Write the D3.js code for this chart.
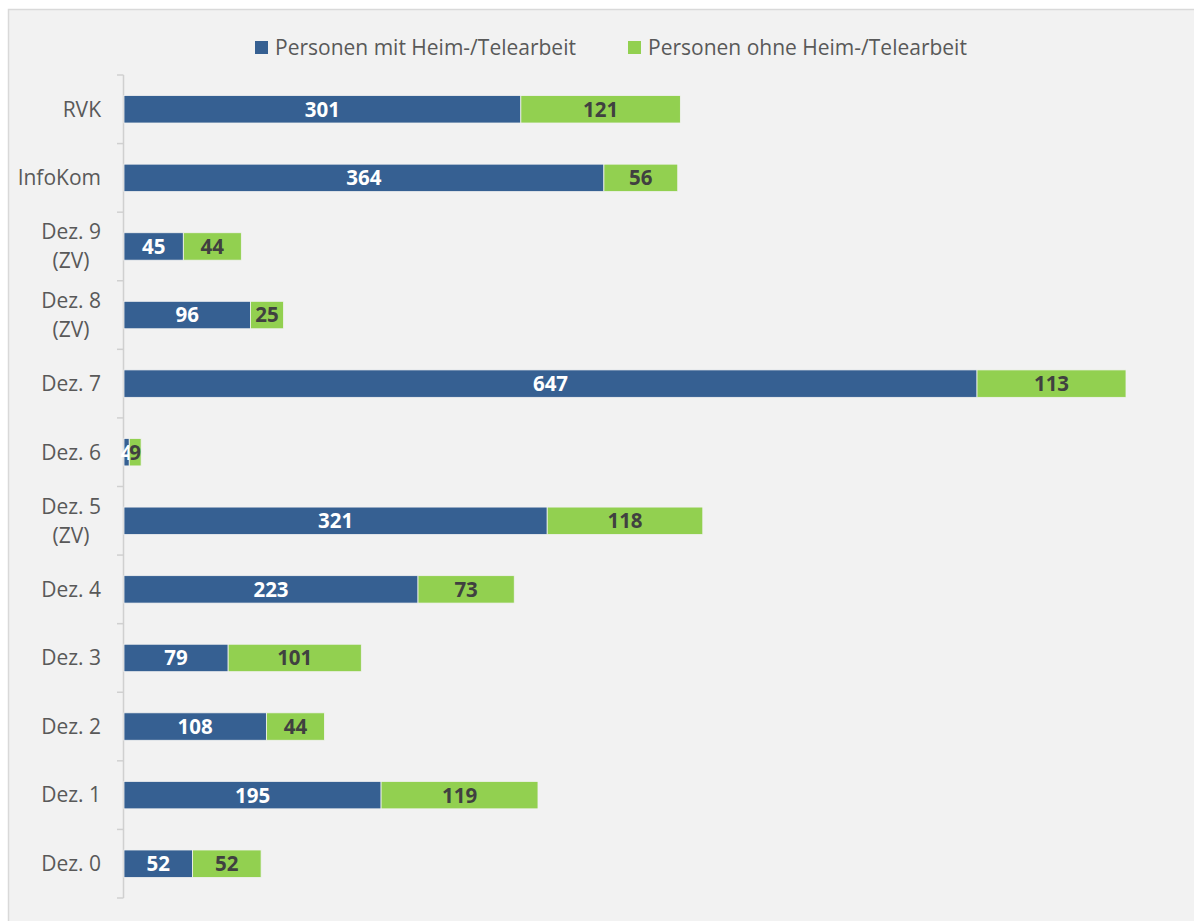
<!DOCTYPE html>
<html>
<head>
<meta charset="utf-8">
<script src="https://cdn.jsdelivr.net/npm/d3@7"></script>
<style>
  body { margin: 0; background: #fff; }
  text { font-family: "Open Sans", "Noto Sans", sans-serif; }
</style>
</head>
<body>
<div id="chart"></div>
<script>
const categories = ["RVK", "InfoKom", "Dez. 9\n(ZV)", "Dez. 8\n(ZV)", "Dez. 7", "Dez. 6",
    "Dez. 5\n(ZV)", "Dez. 4", "Dez. 3", "Dez. 2", "Dez. 1", "Dez. 0"];
const withHome = [301, 364, 45, 96, 647, 4, 321, 223, 79, 108, 195, 52];
const withoutHome = [121, 56, 44, 25, 113, 9, 118, 73, 101, 44, 119, 52];
const seriesNames = ["Personen mit Heim-/Telearbeit", "Personen ohne Heim-/Telearbeit"];
const colors = ["#366092", "#92d050"];
const labelColors = ["#ffffff", "#404040"];

const W = 1194, H = 921;
const plot = {left: 124, right: 1126, top: 75, bottom: 898};

const svg = d3.select("#chart").append("svg")
    .attr("width", W)
    .attr("height", H);

// panel background
svg.append("rect")
    .attr("x", 8.5).attr("y", 9.5)
    .attr("width", W).attr("height", H)
    .attr("fill", "#f2f2f2")
    .attr("stroke", "#d9d9d9")
    .attr("stroke-width", 1.5);

const data = categories.map((c, i) => ({cat: c, a: withHome[i], b: withoutHome[i]}));

const y = d3.scaleBand()
    .domain(categories)
    .range([plot.top, plot.bottom])
    .paddingInner(0.6)
    .paddingOuter(0.3);

const x = d3.scaleLinear()
    .domain([0, d3.max(data, d => d.a + d.b)])
    .range([plot.left, plot.right]);

// axis line with ticks at band boundaries
const step = y.step();
const boundaries = d3.range(categories.length + 1).map(i => plot.top + i * step);
const axis = svg.append("g");
axis.append("line")
    .attr("x1", plot.left - 0.5).attr("x2", plot.left - 0.5)
    .attr("y1", plot.top).attr("y2", plot.bottom)
    .attr("stroke", "#d0d0d0").attr("stroke-width", 1.5);
axis.selectAll(".tick")
    .data(boundaries)
    .enter().append("line")
    .attr("x1", plot.left - 7).attr("x2", plot.left - 0.5)
    .attr("y1", d => d).attr("y2", d => d)
    .attr("stroke", "#d0d0d0").attr("stroke-width", 1.5);

// category labels (multi-line centered within block, block right aligned)
categories.forEach(c => {
    const lines = c.split("\n");
    const cy = y(c) + y.bandwidth() / 2;
    const g = svg.append("g");
    const lh = 29;
    const texts = lines.map((l, i) => g.append("text")
        .attr("y", cy + (i - (lines.length - 1) / 2) * lh)
        .attr("dy", "0.35em")
        .attr("font-size", 21)
        .attr("fill", "#595959")
        .attr("text-anchor", "middle")
        .text(l));
    const maxW = d3.max(texts, t => t.node().getComputedTextLength());
    texts.forEach(t => t.attr("x", 101 - maxW / 2));
});

// bars
const keys = ["a", "b"];
const stack = d3.stack().keys(keys)(data);

stack.forEach((layer, si) => {
    const g = svg.append("g");
    g.selectAll("rect")
        .data(layer)
        .enter().append("rect")
        .attr("x", d => x(d[0]))
        .attr("y", d => y(d.data.cat))
        .attr("width", d => x(d[1]) - x(d[0]))
        .attr("height", y.bandwidth())
        .attr("fill", colors[si])
        .attr("stroke", "#f2f2f2")
        .attr("stroke-width", 0.8);
    g.selectAll("text")
        .data(layer)
        .enter().append("text")
        .attr("x", d => (x(d[0]) + x(d[1])) / 2)
        .attr("y", d => y(d.data.cat) + y.bandwidth() / 2)
        .attr("dy", "0.36em")
        .attr("text-anchor", "middle")
        .attr("font-size", 20.5)
        .attr("font-weight", "bold")
        .attr("fill", labelColors[si])
        .text(d => d.data[keys[si]]);
});

// legend
const legend = svg.append("g");
const legendPos = [255, 628];
seriesNames.forEach((n, i) => {
    legend.append("rect")
        .attr("x", legendPos[i]).attr("y", 41)
        .attr("width", 13).attr("height", 13)
        .attr("fill", colors[i]);
    legend.append("text")
        .attr("x", legendPos[i] + 20).attr("y", 48)
        .attr("dy", "0.35em")
        .attr("font-size", 21)
        .attr("fill", "#595959")
        .text(n);
});
</script>
</body>
</html>
